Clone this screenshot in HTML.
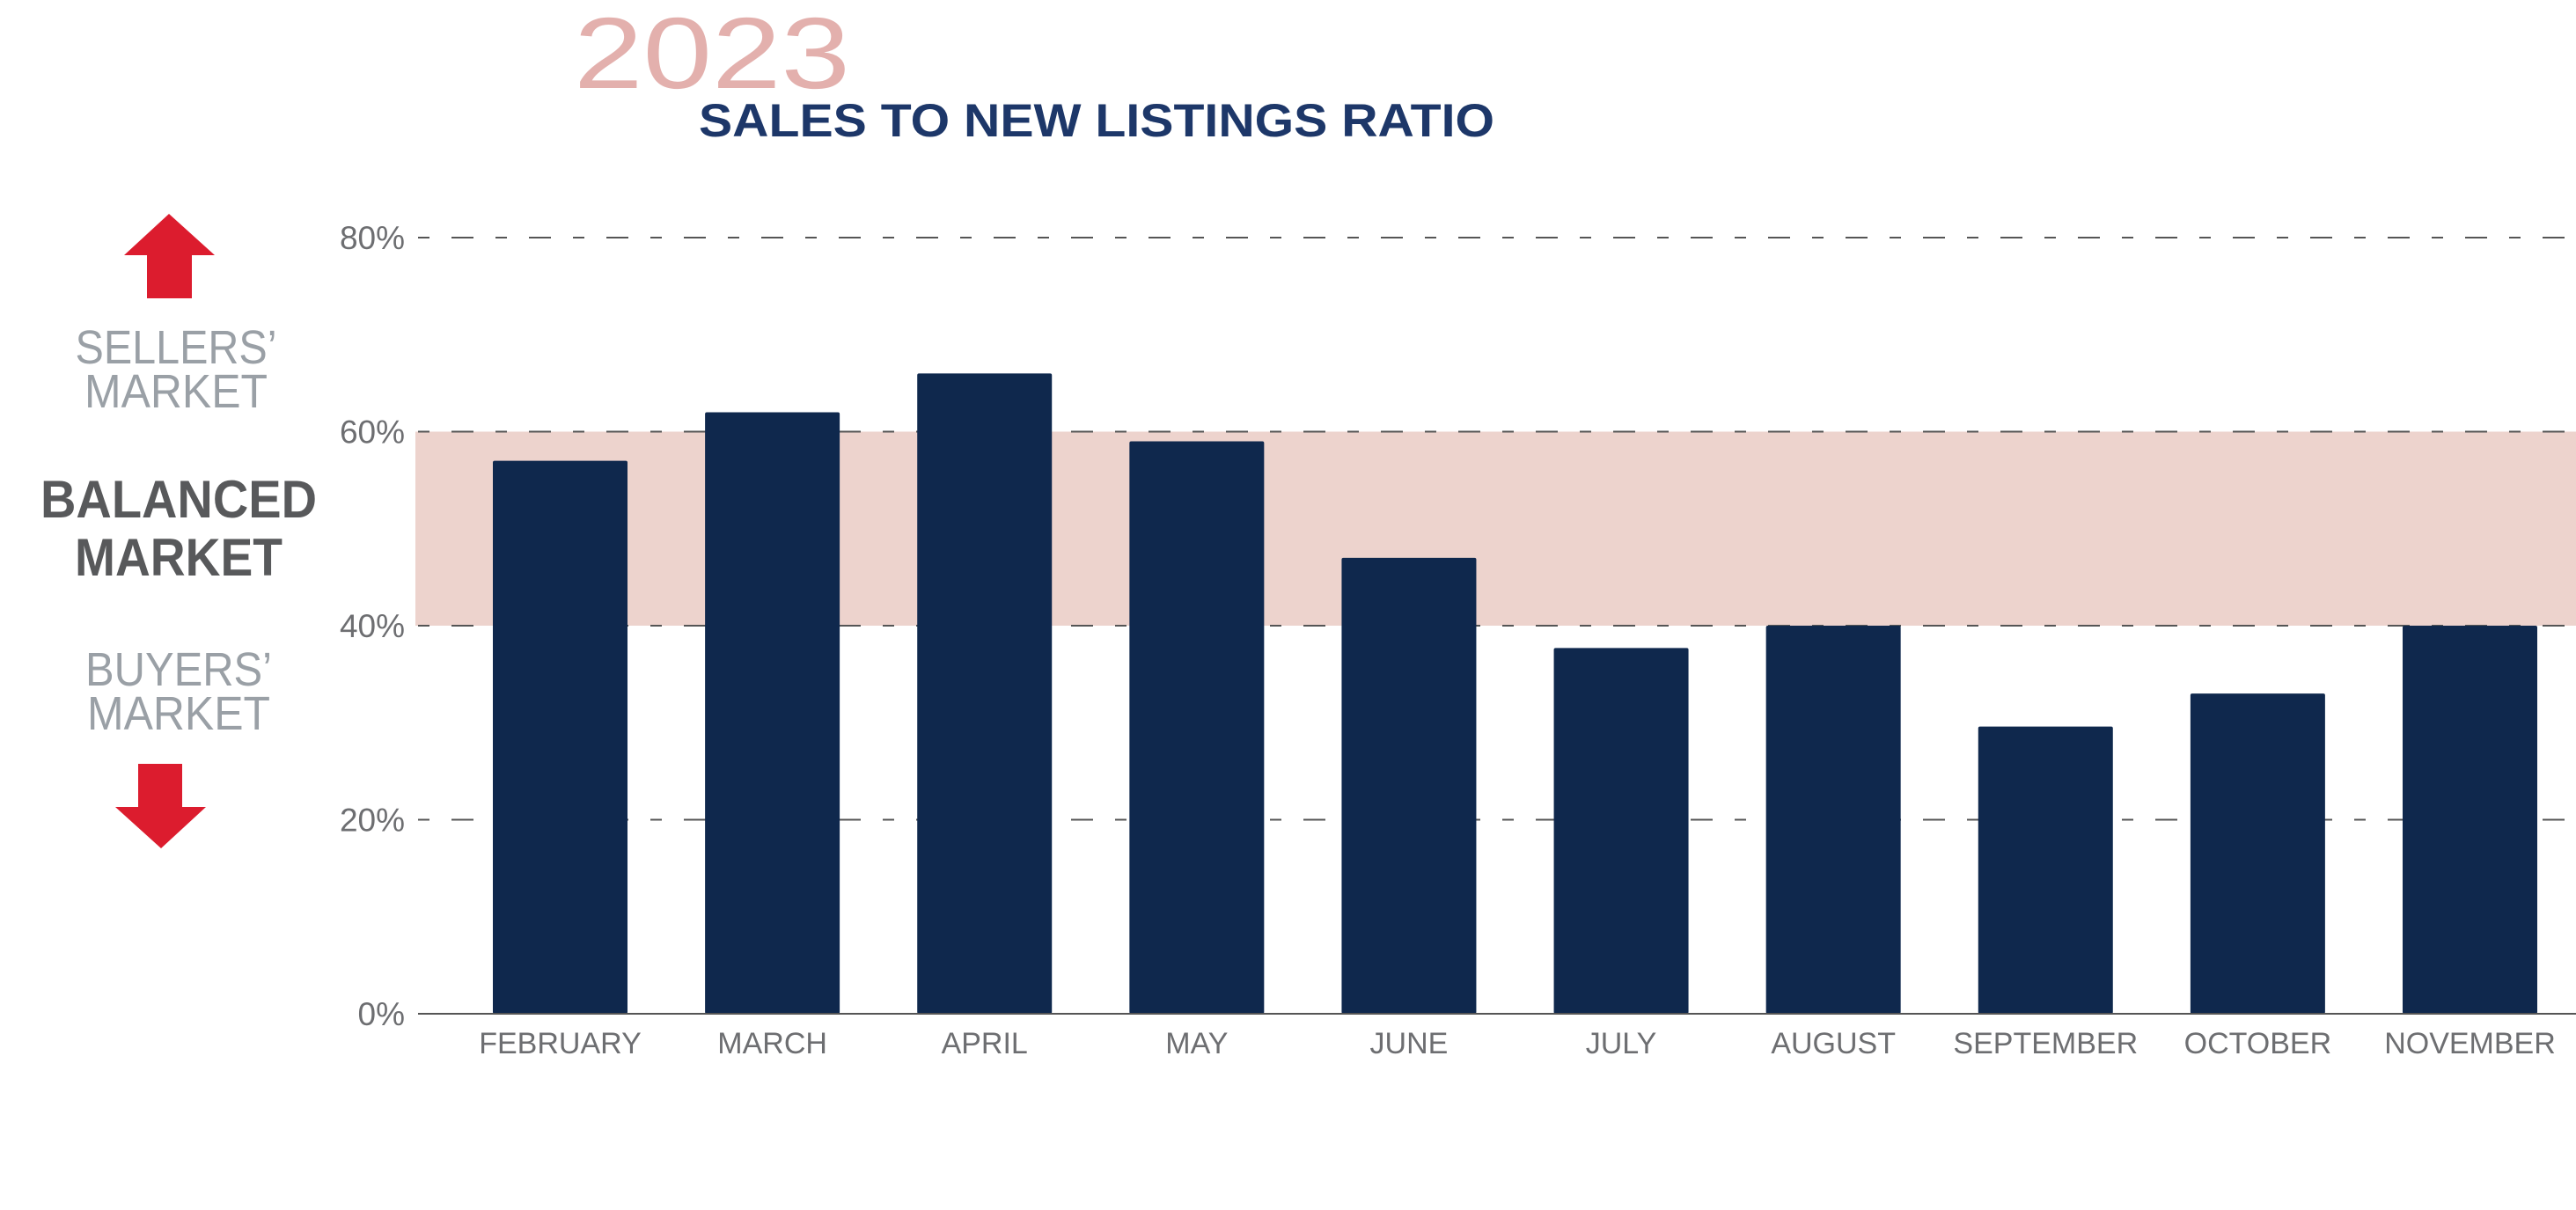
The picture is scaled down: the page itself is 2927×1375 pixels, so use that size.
<!DOCTYPE html>
<html><head><meta charset="utf-8"><style>
html,body{margin:0;padding:0;background:#fff;}
svg{display:block;font-family:"Liberation Sans",sans-serif;}
</style></head><body>
<svg id="chart" width="2927" height="1375" viewBox="0 0 2927 1375">
<text x="652" y="100" font-size="115" fill="#e3b0ad" textLength="314" lengthAdjust="spacingAndGlyphs">2023</text>
<text x="794" y="155" font-size="53" font-weight="bold" fill="#1d3769" textLength="904" lengthAdjust="spacingAndGlyphs">SALES TO NEW LISTINGS RATIO</text>
<polygon points="192,243 244,290 218,290 218,339 167,339 167,290 141,290" fill="#dc1c2e"/>
<text x="200" y="413" font-size="54" fill="#9aa0a6" text-anchor="middle" textLength="229" lengthAdjust="spacingAndGlyphs">SELLERS’</text>
<text x="200" y="463" font-size="54" fill="#9aa0a6" text-anchor="middle" textLength="208" lengthAdjust="spacingAndGlyphs">MARKET</text>
<text x="203" y="588" font-size="60" font-weight="bold" fill="#58595b" text-anchor="middle" textLength="314" lengthAdjust="spacingAndGlyphs">BALANCED</text>
<text x="203" y="654" font-size="60" font-weight="bold" fill="#58595b" text-anchor="middle" textLength="236" lengthAdjust="spacingAndGlyphs">MARKET</text>
<text x="203" y="779" font-size="54" fill="#9aa0a6" text-anchor="middle" textLength="212" lengthAdjust="spacingAndGlyphs">BUYERS’</text>
<text x="203" y="829" font-size="54" fill="#9aa0a6" text-anchor="middle" textLength="208" lengthAdjust="spacingAndGlyphs">MARKET</text>
<polygon points="157,868 207,868 207,917 234,917 183,964 131,917 157,917" fill="#dc1c2e"/>
<g id="plot"></g>
</svg>
<script>
const months = ["FEBRUARY","MARCH","APRIL","MAY","JUNE","JULY","AUGUST","SEPTEMBER","OCTOBER","NOVEMBER"];
const ratios = [57, 62, 66, 59, 47, 37.7, 40, 29.6, 33, 40];
const yTicks = [0, 20, 40, 60, 80];
const tickLabels = ["0%","20%","40%","60%","80%"];
const balancedRange = [40, 60];

const NS = "http://www.w3.org/2000/svg";
const g = document.getElementById("plot");
const y0 = 1152, y80 = 270;
function y(v){ return y0 - (v/80)*(y0-y80); }
const barW = 153, firstX = 560, lastX = 2730;
const step = (lastX-firstX)/(months.length-1);
function x(i){ return firstX + i*step; }
function mk(tag, attrs){ const e=document.createElementNS(NS,tag); for(const k in attrs) e.setAttribute(k,attrs[k]); g.appendChild(e); return e; }

const band = mk("rect",{x:472,y:y(balancedRange[1]),width:2927-472,height:y(balancedRange[0])-y(balancedRange[1]),fill:"#edd3cd"});



yTicks.forEach((t,i)=>{
  if(t>0){
    const l = mk("line",{x1:475,x2:2927,y1:y(t),y2:y(t),stroke:"#555",'stroke-width':2,'stroke-dasharray':"13 25 25 25"});
    
    
  }
  const tx = mk("text",{x:460,y:y(t)+13,'font-size':37,fill:"#6d6e71",'text-anchor':"end"});
  tx.textContent = tickLabels[i];
  
  
});

ratios.forEach((v,i)=>{
  const b = mk("rect",{x:x(i),y:y(v),width:barW,height:y0-y(v),fill:"#0f284d",rx:2});
  
  
  const t = mk("text",{x:x(i)+barW/2,y:1197,'font-size':34,fill:"#6d6e71",'text-anchor':"middle"});
  t.textContent = months[i];
  
  
});

const ax = mk("line",{x1:475,x2:2927,y1:y0,y2:y0,stroke:"#555",'stroke-width':2});


</script>
</body></html>
